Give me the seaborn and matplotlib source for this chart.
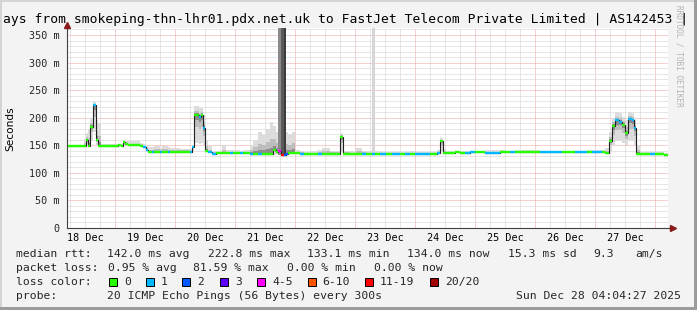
import numpy as np
import pandas as pd
import matplotlib
matplotlib.use("Agg")
import matplotlib.pyplot as plt
import matplotlib.ticker as mticker
import matplotlib.transforms as mtransforms
from matplotlib.patches import Rectangle
import seaborn as sns

# ---------------- data ----------------
# segment start, hours since 18 Dec 00:00 (each segment lasts until the next start)
seg_start_h = [4.8, 9.6, 11.6, 12.4, 13.2, 14.0, 15.2, 16.4, 17.2, 18.4,
               25.2, 26.4, 27.2, 28.0, 29.2, 34.0, 35.2, 36.4, 37.2, 38.8,
               39.6, 42.0, 42.8, 45.2, 46.0, 50.0, 54.0, 54.8, 55.6, 57.6,
               58.4, 59.2, 60.0, 61.2, 62.8, 64.4, 66.8, 68.4, 70.0, 71.2,
               74.0, 75.2, 78.0, 79.2, 81.2, 82.8, 84.4, 86.0, 87.2, 88.4,
               89.2, 90.4, 90.8, 91.6, 92.4, 93.2, 94.8, 96.0, 98.0, 99.6,
               102.0, 105.2, 106.8, 110.0, 114.0, 115.2, 118.0, 120.4, 122.8, 124.4,
               126.8, 128.0, 130.0, 132.4, 134.8, 138.0, 140.0, 142.0, 144.0, 148.0,
               150.0, 152.8, 154.0, 155.2, 156.4, 160.0, 162.0, 164.0, 166.0, 168.0,
               170.0, 172.0, 178.0, 180.0, 182.0, 184.0, 194.0, 198.0, 202.8, 206.0,
               208.0, 212.8, 214.8, 218.8, 220.0, 221.6, 222.8, 224.0, 225.6, 226.8,
               228.0, 229.2, 230.8, 231.6, 232.4, 234.0, 238.0, 240.0, 242.0, 243.6]
end_h = 245.2

# median rtt (ms)
seg_median = [148, 149, 149, 159, 149, 184, 223, 160, 149, 149,
              151, 148, 156, 152, 150, 149, 146, 142, 138, 138,
              138, 138, 138, 138, 138, 138, 138, 147, 205, 202,
              205, 182, 139, 137, 135, 136, 136, 136, 136, 136,
              136, 136, 135, 135, 135, 135, 135, 135, 141, 138,
              140, 133, 133, 133, 134, 136, 136, 136, 135, 134,
              134, 134, 135, 135, 165, 135, 135, 135, 135, 135,
              135, 135, 134, 135, 135, 134, 134, 134, 134, 134,
              135, 136, 157, 136, 136, 137, 136, 136, 137, 137,
              137, 136, 137, 137, 137, 137, 137, 137, 137, 137,
              137, 138, 138, 138, 136, 158, 185, 195, 193, 187,
              172, 198, 196, 182, 135, 135, 135, 135, 134, 133]

# loss category index (0 -> "0", 1 -> "1", 2 -> "2", 3 -> "3", 4 -> "4-5", 5 -> "6-10", 6 -> "11-19", 7 -> "20/20")
seg_loss = [0, 0, 0, 0, 0, 0, 1, 0, 0, 0,
            0, 0, 0, 0, 0, 0, 1, 1, 0, 1,
            0, 1, 0, 1, 0, 0, 1, 1, 0, 1,
            0, 1, 0, 1, 1, 0, 0, 0, 1, 0,
            1, 0, 1, 0, 1, 0, 0, 0, 0, 0,
            4, 6, 6, 2, 2, 0, 0, 0, 1, 0,
            0, 1, 0, 0, 0, 0, 0, 0, 1, 0,
            1, 0, 1, 0, 1, 0, 1, 0, 1, 1,
            0, 1, 0, 0, 0, 0, 0, 1, 1, 0,
            0, 1, 0, 0, 1, 0, 1, 1, 0, 0,
            1, 0, 1, 0, 0, 0, 0, 1, 1, 0,
            0, 1, 1, 1, 0, 0, 1, 0, 0, 0]

# smoke (ping spread) upper and lower bounds (ms)
seg_smoke_hi = [150, 151, 162, 172, 180, 200, 228, 195, 190, 153,
                153, 152, 158, 158, 157, 155, 153, 150, 147, 147,
                148, 145, 148, 146, 145, 144, 143, 150, 222, 218,
                218, 205, 160, 148, 140, 138, 150, 141, 142, 141,
                140, 142, 150, 160, 175, 168, 180, 192, 185, 175,
                400, 400, 400, 400, 175, 170, 175, 142, 140, 138,
                140, 141, 145, 140, 172, 140, 139, 145, 140, 139,
                400, 139, 138, 138, 137, 137, 138, 139, 137, 137,
                138, 142, 164, 144, 139, 139, 139, 139, 139, 140,
                140, 141, 141, 140, 140, 141, 140, 140, 140, 140,
                140, 141, 141, 141, 145, 175, 200, 210, 208, 202,
                196, 210, 208, 200, 150, 138, 138, 138, 137, 136]
seg_smoke_lo = [147, 148, 148, 150, 148, 160, 175, 150, 148, 148,
                149, 147, 149, 150, 149, 148, 145, 140, 137, 137,
                137, 137, 137, 137, 137, 137, 137, 140, 155, 152,
                155, 150, 138, 136, 134, 135, 135, 135, 135, 135,
                135, 135, 134, 134, 134, 134, 134, 134, 133, 134,
                133, 132, 132, 132, 133, 135, 135, 135, 134, 133,
                133, 133, 134, 134, 140, 134, 134, 134, 134, 134,
                134, 134, 133, 134, 134, 133, 133, 133, 133, 133,
                134, 135, 140, 135, 135, 136, 135, 135, 136, 136,
                136, 135, 136, 136, 136, 136, 136, 136, 136, 136,
                136, 137, 137, 137, 135, 140, 150, 158, 158, 155,
                150, 158, 158, 150, 134, 134, 134, 134, 133, 132]

loss_labels = ["0", "1", "2", "3", "4-5", "6-10", "11-19", "20/20"]
loss_colors = ["#26ff00", "#00b8ff", "#0059ff", "#5e00ff", "#ff00ff", "#ff5500", "#ff0000", "#a10000"]

day_labels = ["18 Dec", "19 Dec", "20 Dec", "21 Dec", "22 Dec",
              "23 Dec", "24 Dec", "25 Dec", "26 Dec", "27 Dec"]
day_label_hours = [12, 36, 60, 84, 108, 132, 156, 180, 204, 228]
midnight_hours = [24, 48, 72, 96, 120, 144, 168, 192, 216, 240]
y_ticks = [0, 50, 100, 150, 200, 250, 300, 350]

title_text = "ays from smokeping-thn-lhr01.pdx.net.uk to FastJet Telecom Private Limited | AS142453 |"
y_label = "Seconds"
stats_rtt = ["median rtt:", "142.0 ms avg", "222.8 ms max", "133.1 ms min", "134.0 ms now", "15.3 ms sd", "9.3", "am/s"]
stats_loss = ["packet loss:", "0.95 % avg", "81.59 % max", "0.00 % min", "0.00 % now"]
probe_text = ["probe:", "20 ICMP Echo Pings (56 Bytes) every 300s", "Sun Dec 28 04:04:27 2025"]
loss_color_title = "loss color:"
watermark = "RRDTOOL / TOBI OETIKER"

# ---------------- figure ----------------
W, H = 697, 310
sns.set_style("white")
plt.rcParams["font.family"] = ["DejaVu Sans Mono", "DejaVu Sans"]

fig = plt.figure(figsize=(W / 100, H / 100), dpi=100)
fig.patch.set_facecolor("#f3f3f3")


def fx(px):
    return px / W


def fy(py):
    return 1 - py / H


L, R, T, B = 67, 668, 28, 228
ax = fig.add_axes([fx(L), fy(B), fx(R) - fx(L), fy(T) - fy(B)])
ax.set_facecolor("white")

df = pd.DataFrame({
    "start": seg_start_h,
    "end": seg_start_h[1:] + [end_h],
    "median": seg_median,
    "loss": seg_loss,
    "hi": seg_smoke_hi,
    "lo": seg_smoke_lo,
})

# step arrays
xs = np.append(df["start"].values, end_h)
def stepv(col):
    v = df[col].values.astype(float)
    return np.append(v, v[-1])

med = stepv("median")
hi = stepv("hi")
lo = stepv("lo")
tall = hi >= 360

# smoke: outer light layer
ax.fill_between(xs, lo, np.minimum(hi, 400), step="post", color="#dcdcdc", lw=0, zorder=1)
# inner darker layers
ax.fill_between(xs, med - 0.45 * (med - lo), np.where(tall, med, med + 0.45 * (hi - med)),
                step="post", color="#bdbdbd", lw=0, zorder=1.1)
ax.fill_between(xs, med - 0.2 * (med - lo), np.where(tall, med, med + 0.18 * (hi - med)),
                step="post", color="#8c8c8c", lw=0, zorder=1.2)
# tall loss columns: shade by loss level
col_grey = {0: "#d6d6d6", 1: "#d6d6d6", 2: "#3c3c3c", 4: "#8a8a8a", 6: "#5a5a5a"}
for _, r in df[df["hi"] >= 360].iterrows():
    ax.fill_between([r["start"], r["end"]], [r["lo"]] * 2, [400, 400],
                    color=col_grey.get(int(r["loss"]), "#888888"), lw=0, zorder=1.3)

# grid
ax.set_xlim(4.8, 245.2)
ax.set_ylim(0, 362.7)
ax.xaxis.set_major_locator(mticker.FixedLocator(midnight_hours))
ax.xaxis.set_minor_locator(mticker.MultipleLocator(6))
ax.yaxis.set_major_locator(mticker.FixedLocator(y_ticks))
ax.yaxis.set_minor_locator(mticker.MultipleLocator(10))
ax.grid(which="minor", color="#cfcfcf", linestyle=(0, (1, 1)), linewidth=0.72, zorder=0.5)
ax.grid(which="major", color="#eba3a3", linestyle=(0, (1, 1)), linewidth=0.72, zorder=0.6)
ax.set_axisbelow(True)

# median line (black) via seaborn
line_df = pd.DataFrame({"h": xs, "ms": med})
sns.lineplot(data=line_df, x="h", y="ms", ax=ax, color="#202020", linewidth=0.8,
             drawstyle="steps-post", zorder=3, estimator=None, sort=False)

# coloured loss bands
ax.hlines(df["median"], df["start"], df["end"],
          colors=[loss_colors[i] for i in df["loss"]], linewidth=1.7, zorder=4)

ax.set_xlabel("")
ax.set_ylabel("")

# axes styling
for s in ["top", "right"]:
    ax.spines[s].set_visible(False)
for s in ["left", "bottom"]:
    ax.spines[s].set_color("#404040")
    ax.spines[s].set_linewidth(0.8)
    ax.spines[s].set_zorder(5)

ax.set_yticks(y_ticks)
ax.set_yticklabels([("%d m" % v) if v else "0" for v in y_ticks], fontsize=7.3)
ax.tick_params(axis="y", which="major", length=2.5, width=0.7, color="#404040", pad=3, direction="out")
ax.tick_params(axis="y", which="minor", length=1.5, width=0.7, color="#404040", direction="out")
ax.tick_params(axis="x", which="major", length=2.5, width=0.7, color="#404040", direction="out", labelbottom=False)
ax.tick_params(axis="x", which="minor", length=1.5, width=0.7, color="#404040", direction="out")

trans = mtransforms.blended_transform_factory(ax.transData, fig.transFigure)
for h, lab in zip(day_label_hours, day_labels):
    ax.text(h, fy(238), lab, transform=trans, ha="center", va="center", fontsize=7.3, color="#000000")

# arrows at axis ends
ax.plot([4.8], [368.5], marker="^", markersize=5, color="#8b1a1a", clip_on=False, zorder=6)
ax.plot([247.0], [0], marker=">", markersize=5, color="#8b1a1a", clip_on=False, zorder=6)
ax.plot([4.8, 4.8], [362.7, 367], color="#404040", lw=0.8, clip_on=False, zorder=5)
ax.plot([245.2, 246.6], [0, 0], color="#404040", lw=0.8, clip_on=False, zorder=5)

# title and labels
fig.text(fx(679), fy(5), watermark, rotation=-90, fontsize=5.6, ha="center", va="top", color="#b4b4b4")
fig.text(fx(3), fy(19), title_text, fontsize=9.4, ha="left", va="center", color="#000000")
fig.text(fx(10), fy(129), y_label, rotation=90, fontsize=7.6, ha="center", va="center",
         family=["DejaVu Sans"], color="#000000")

# footer
fs = 8.2
rtt_x = [16, 107, 208, 307, 407, 508, 593, 635]
for x, t in zip(rtt_x, stats_rtt):
    fig.text(fx(x), fy(254), t, fontsize=fs, ha="left", va="center")
loss_x = [16, 107.5, 193, 287, 374]
for x, t in zip(loss_x, stats_loss):
    fig.text(fx(x), fy(268), t, fontsize=fs, ha="left", va="center")
fig.text(fx(16), fy(282), loss_color_title, fontsize=fs, ha="left", va="center")
box_x = [109, 146, 182, 220, 257, 307.5, 365, 430]
for x, c, lab in zip(box_x, loss_colors, loss_labels):
    fig.patches.append(Rectangle((fx(x), fy(286)), 8 / W, 8 / H, transform=fig.transFigure,
                                 facecolor=c, edgecolor="black", linewidth=0.7))
    fig.text(fx(x + 15), fy(282), lab, fontsize=fs, ha="left", va="center")
fig.text(fx(16), fy(296), probe_text[0], fontsize=fs, ha="left", va="center")
fig.text(fx(107), fy(296), probe_text[1], fontsize=fs, ha="left", va="center")
fig.text(fx(681), fy(296), probe_text[2], fontsize=fs, ha="right", va="center")

# frame shading
fig.patches.append(Rectangle((0, fy(2)), 1, 2 / H, transform=fig.transFigure, facecolor="#d4d4d4", lw=0))
fig.patches.append(Rectangle((0, 0), 2 / W, 1, transform=fig.transFigure, facecolor="#d4d4d4", lw=0))
fig.patches.append(Rectangle((0, 0), 1, 3 / H, transform=fig.transFigure, facecolor="#9c9c9c", lw=0))
fig.patches.append(Rectangle((fx(694), 0), 3 / W, 1, transform=fig.transFigure, facecolor="#9c9c9c", lw=0))

fig.savefig("out.png", dpi=100, facecolor=fig.get_facecolor())
